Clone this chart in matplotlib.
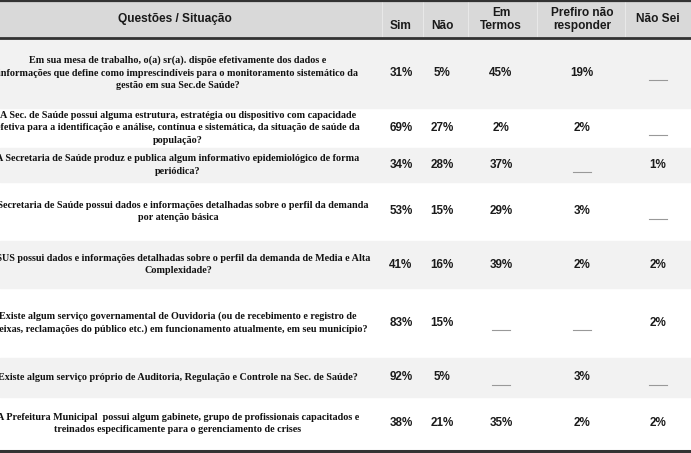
import matplotlib
matplotlib.use('agg')
import matplotlib.pyplot as plt

# column headers (answer columns)
answer_cols = ['Sim', 'Não', 'Em\nTermos', 'Prefiro não\nresponder', 'Não Sei']
question_header = 'Questões / Situação'

questions = [
    'Em sua mesa de trabalho, o(a) sr(a). dispõe efetivamente dos dados e\n'
    'informações que define como imprescindíveis para o monitoramento sistemático da\n'
    'gestão em sua Sec.de Saúde?',
    'A Sec. de Saúde possui alguma estrutura, estratégia ou dispositivo com capacidade\n'
    'efetiva para a identificação e análise, contínua e sistemática, da situação de saúde da\n'
    'população?',
    'A Secretaria de Saúde produz e publica algum informativo epidemiológico de forma\n'
    'periódica?',
    'A Secretaria de Saúde possui dados e informações detalhadas sobre o perfil da demanda\n'
    'por atenção básica',
    'O SUS possui dados e informações detalhadas sobre o perfil da demanda de Media e Alta\n'
    'Complexidade?',
    'Existe algum serviço governamental de Ouvidoria (ou de recebimento e registro de\n'
    'queixas, reclamações do público etc.) em funcionamento atualmente, em seu município?',
    'Existe algum serviço próprio de Auditoria, Regulação e Controle na Sec. de Saúde?',
    'A Prefeitura Municipal  possui algum gabinete, grupo de profissionais capacitados e\n'
    'treinados especificamente para o gerenciamento de crises',
]

# None = not answered (dash)
sim = [31, 69, 34, 53, 41, 83, 92, 38]
nao = [5, 27, 28, 15, 16, 15, 5, 21]
em_termos = [45, 2, 37, 29, 39, None, None, 35]
prefiro = [19, 2, None, 3, 2, None, 3, 2]
nao_sei = [None, None, 1, None, 2, 2, None, 2]

# layout (pixels)
W, H = 691, 453
header_h = 38
row_h = [70, 40, 34, 59, 47, 70, 39, 53]
col_x = [401, 442, 501, 582, 658]
col_sep = [382, 423, 468, 537, 625]
q_x = 178

fig = plt.figure(figsize=(W / 100, H / 100), dpi=100)
ax = fig.add_axes([0, 0, 1, 1])
ax.set_xlim(0, W)
ax.set_ylim(H, 0)
ax.axis('off')

# header
ax.axhspan(0, header_h, color='#d9d9d9', zorder=0)
for xs in col_sep:
    ax.plot([xs, xs], [1, header_h], color='#e8e8e8', lw=0.8, zorder=1)
ax.axhline(0.8, color='#333333', lw=1.6)
ax.axhline(header_h, color='#333333', lw=2.0)

hfont = dict(family='Liberation Sans', fontweight='bold', fontsize=8.6,
             color='#1a1a1a', ha='center', va='center')
ax.text(q_x - 3, 19, question_header, **hfont)
for x, lab in zip(col_x, answer_cols):
    y = 19 if lab == 'Não Sei' else (19.5 if '\n' in lab else 26)
    ax.text(x, y, lab, linespacing=1.1, **hfont)

columns = [sim, nao, em_termos, prefiro, nao_sei]
y0 = header_h
for i, q in enumerate(questions):
    y1 = y0 + row_h[i]
    if i % 2 == 0:
        ax.axhspan(y0, y1, color='#f2f2f2', zorder=0)
    yc = (y0 + y1) / 2
    ax.text(q_x, yc, q, family='Liberation Serif', fontweight='bold',
            fontsize=7.3, ha='center', va='center', linespacing=1.5,
            color='#111111')
    for x, col in zip(col_x, columns):
        v = col[i]
        if v is None:
            ax.plot([x - 9, x + 9], [yc + 7, yc + 7], color='#999999', lw=0.8)
        else:
            ax.text(x, yc, f'{v}%', family='Liberation Sans',
                    fontweight='bold', fontsize=8.4, ha='center',
                    va='center', color='#1a1a1a')
    y0 = y1

ax.axhline(y0 + 1, color='#333333', lw=2.2)
ax.axhline(y0 + 3.2, color='#555555', lw=0.8)

fig.savefig('out.png', dpi=100)
plt.close(fig)
